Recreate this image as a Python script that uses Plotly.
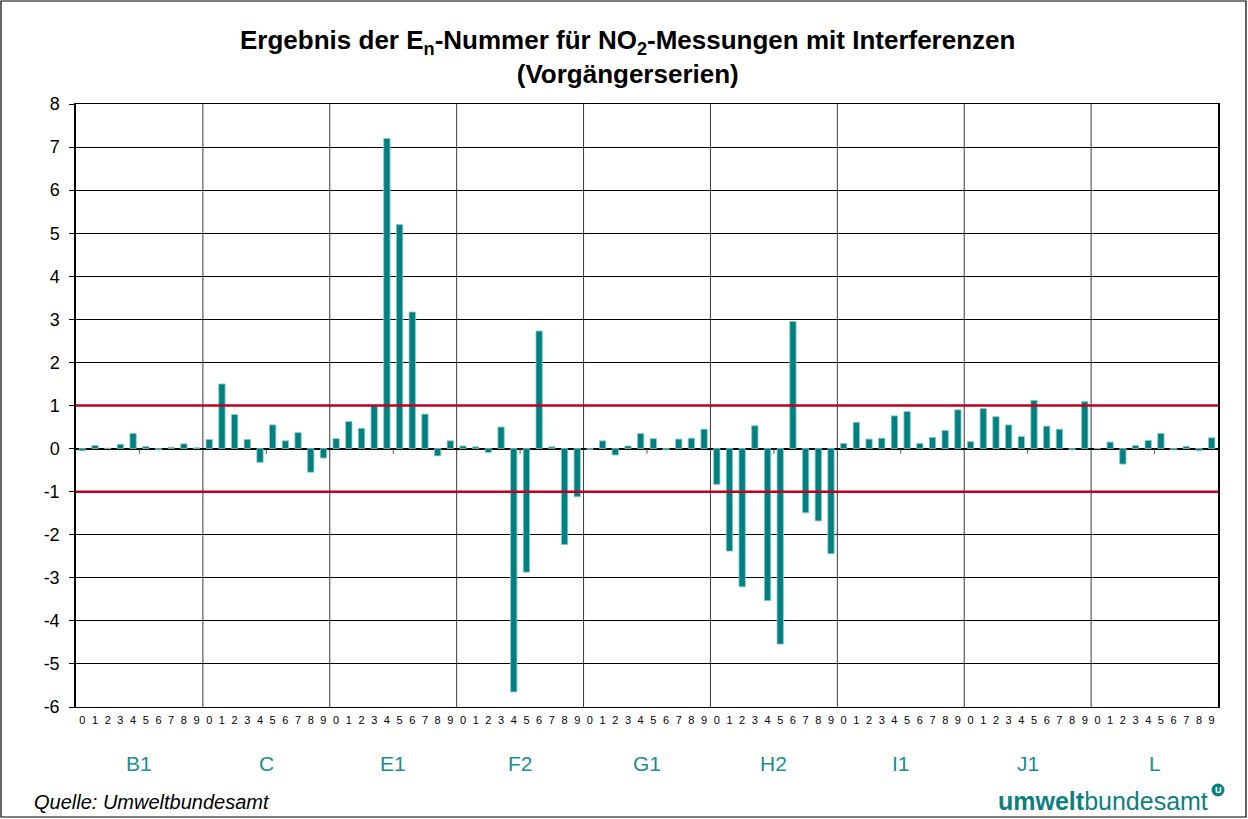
import plotly.graph_objects as go

groups = ["B1", "C", "E1", "F2", "G1", "H2", "I1", "J1", "L"]
digits = ["0", "1", "2", "3", "4", "5", "6", "7", "8", "9"]

en_values = {
    "B1": [-0.05, 0.07, 0.01, 0.10, 0.35, 0.05, -0.03, 0.03, 0.11, 0.02],
    "C":  [0.21, 1.50, 0.79, 0.21, -0.32, 0.55, 0.18, 0.37, -0.55, -0.22],
    "E1": [0.23, 0.63, 0.47, 1.00, 7.20, 5.20, 3.17, 0.80, -0.17, 0.18],
    "F2": [0.06, 0.04, -0.09, 0.50, -5.65, -2.87, 2.73, 0.04, -2.23, -1.12],
    "G1": [-0.02, 0.18, -0.15, 0.06, 0.35, 0.23, -0.03, 0.22, 0.24, 0.45],
    "H2": [-0.83, -2.38, -3.21, 0.53, -3.53, -4.54, 2.95, -1.49, -1.68, -2.44],
    "I1": [0.12, 0.61, 0.22, 0.24, 0.76, 0.86, 0.12, 0.26, 0.42, 0.90],
    "J1": [0.16, 0.93, 0.74, 0.55, 0.28, 1.12, 0.52, 0.45, -0.03, 1.09],
    "L":  [0.00, 0.15, -0.36, 0.07, 0.19, 0.35, -0.03, 0.05, -0.05, 0.25],
}

limit = 1
y_ticks = list(range(-6, 9))
y_ticktext = [str(v) for v in y_ticks]

FONT = "Arial, Liberation Sans, sans-serif"
TEAL = "#008080"

n_sub = len(digits)
xs, ys = [], []
for gi, g in enumerate(groups):
    for si, v in enumerate(en_values[g]):
        xs.append(gi * n_sub + si)
        ys.append(v)

fig = go.Figure()
fig.add_trace(go.Bar(
    x=xs, y=ys, width=0.5,
    marker=dict(color=TEAL, line=dict(color="#8CCACA", width=0.8)),
    showlegend=False,
))

n_total = len(groups) * n_sub
shapes = []
for gi in range(1, len(groups)):
    xpos = gi * n_sub - 0.5
    shapes.append(dict(type="line", xref="x", yref="y", x0=xpos, x1=xpos,
                       y0=-6, y1=8, line=dict(color="#3a3a3a", width=1), layer="below"))
for gi in range(len(groups)):
    xc = gi * n_sub + (n_sub - 1) / 2
    shapes.append(dict(type="line", xref="x", yref="y", x0=xc, x1=xc,
                       y0=0, y1=-0.12, line=dict(color="#555", width=1)))
for lv in (limit, -limit):
    shapes.append(dict(type="line", xref="paper", yref="y", x0=0, x1=1,
                       y0=lv, y1=lv, line=dict(color="#C00020", width=2.5)))
W, H = 1248, 819
ml, mr, mt, mb = 76, 30, 104, 112
pw, ph = W - ml - mr, H - mt - mb
shapes.append(dict(type="rect", xref="paper", yref="paper",
                   x0=(1 - ml) / pw, x1=1 + (mr - 2) / pw,
                   y0=-(mb - 2) / ph, y1=1 + (mt - 1) / ph,
                   line=dict(color="black", width=1.2)))

annotations = []
for gi, g in enumerate(groups):
    annotations.append(dict(
        x=gi * n_sub + (n_sub - 1) / 2, xref="x", y=-(764 - (H - mb)) / ph, yref="paper",
        text=g, showarrow=False, font=dict(family=FONT, size=21, color="#1A8E8E"),
        xanchor="center", yanchor="middle"))
annotations.append(dict(
    x=(32 - ml) / pw, xref="paper", y=-(802 - (H - mb)) / ph, yref="paper",
    text="<i>Quelle: Umweltbundesamt</i>", showarrow=False,
    font=dict(family=FONT, size=20, color="black"), xanchor="left", yanchor="middle"))
annotations.append(dict(
    x=(1210 - ml) / pw, xref="paper", y=-(801 - (H - mb)) / ph, yref="paper",
    text="<b>umwelt</b>bundesamt", showarrow=False,
    font=dict(family=FONT, size=25, color="#0E7F7F"), xanchor="right", yanchor="middle"))
cx, cy, r = 1218, 790, 6.5
shapes.append(dict(type="circle", xref="paper", yref="paper",
                   x0=(cx - r - ml) / pw, x1=(cx + r - ml) / pw,
                   y0=-(cy + r - (H - mb)) / ph, y1=-(cy - r - (H - mb)) / ph,
                   fillcolor="#0E7F7F", line=dict(width=0)))
annotations.append(dict(
    x=(cx - ml) / pw, xref="paper", y=-(cy - (H - mb)) / ph, yref="paper",
    text="<b>U</b>", showarrow=False,
    font=dict(family=FONT, size=9, color="white"), xanchor="center", yanchor="middle"))

fig.update_layout(
    width=W, height=H,
    margin=dict(l=ml, r=mr, t=mt, b=mb),
    paper_bgcolor="white", plot_bgcolor="white",
    font=dict(family=FONT, color="black"),
    title=dict(
        text="<b>Ergebnis der E<sub>n</sub>-Nummer für NO<sub>2</sub>-Messungen mit Interferenzen<br>(Vorgängerserien)</b>",
        x=0.503, xref="container", xanchor="center", y=0.94, yref="container", yanchor="top",
        font=dict(family=FONT, size=26, color="black")),
    xaxis=dict(
        range=[-0.5, n_total - 0.5],
        tickvals=xs, ticktext=[digits[i % n_sub] for i in range(n_total)],
        tickfont=dict(family=FONT, size=11, color="black"),
        tickangle=0,
        showgrid=False, zeroline=False,
        showline=True, mirror=True, linecolor="black", linewidth=1,
        ticks="", ticklabelstandoff=3,
    ),
    yaxis=dict(
        range=[-6, 8], tickvals=y_ticks, ticktext=y_ticktext,
        tickfont=dict(family=FONT, size=18, color="black"),
        showgrid=True, gridcolor="black", gridwidth=1,
        zeroline=True, zerolinecolor="black", zerolinewidth=1.5,
        showline=True, mirror=True, linecolor="black", linewidth=1.5,
        ticks="outside", ticklen=5, tickcolor="black",
        ticklabelstandoff=6,
    ),
    shapes=shapes, annotations=annotations,
    bargap=0.5,
)

fig.write_html("out.html", config={"displayModeBar": False},
               post_script="document.body.style.margin='0px';")
